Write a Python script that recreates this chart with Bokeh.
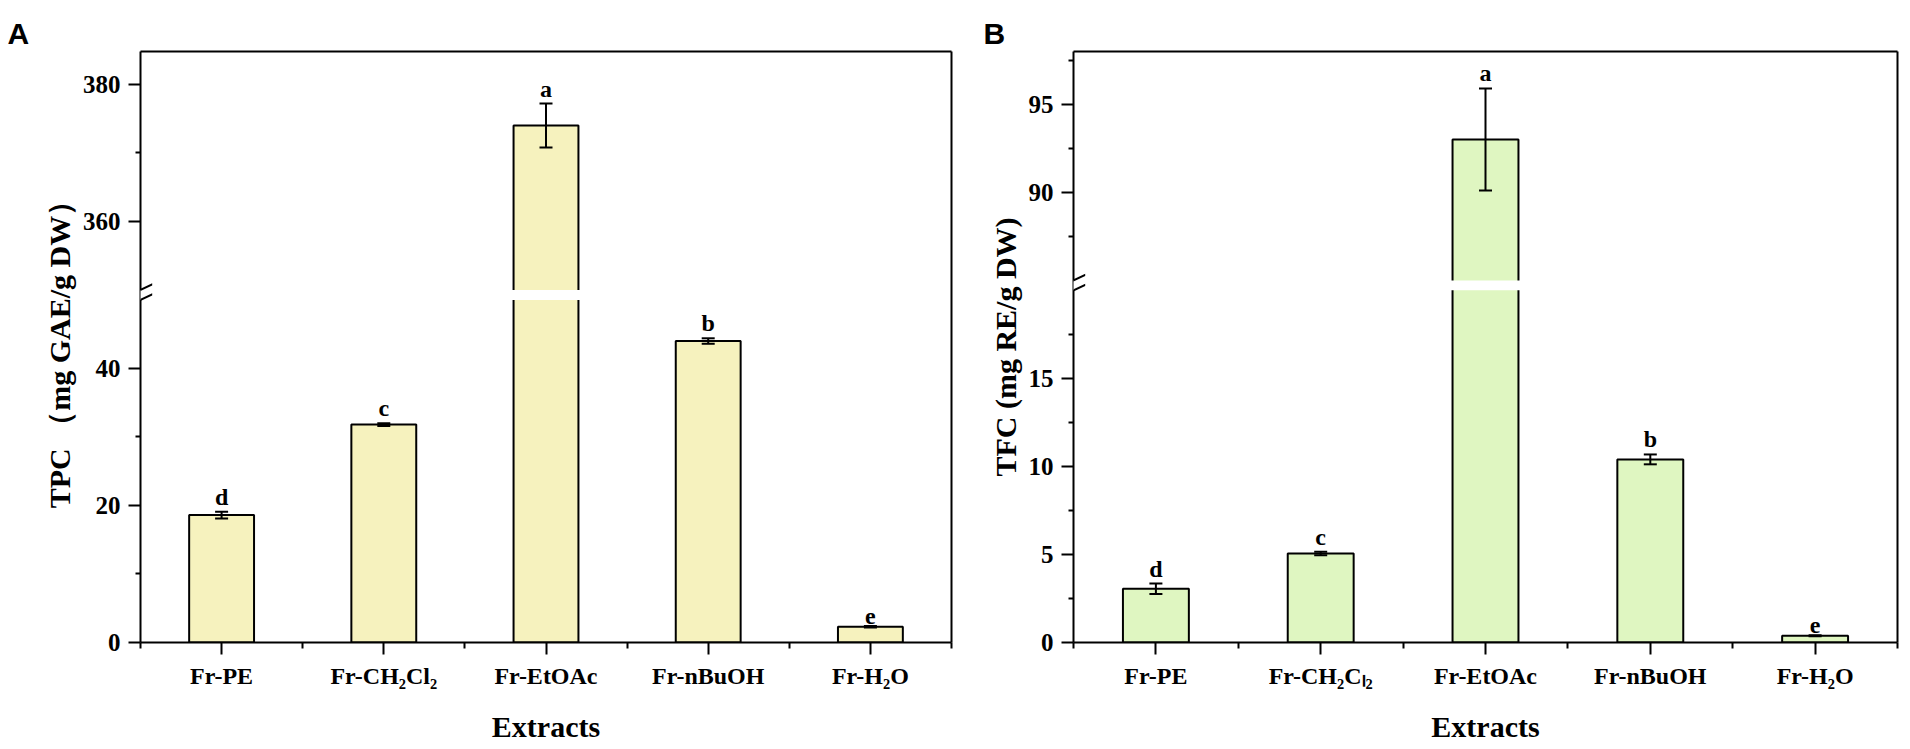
from bokeh.plotting import figure
from bokeh.models import (Range1d, FixedTicker, LinearAxis, Whisker, TeeHead,
                          ColumnDataSource, PolyAnnotation)
from bokeh.layouts import row
from bokeh.embed import file_html
from bokeh.resources import INLINE
from bokeh.core.properties import value

# ---------------- data ----------------
extracts_tpc = ["Fr-PE", "Fr-CH₂Cl₂", "Fr-EtOAc", "Fr-nBuOH", "Fr-H₂O"]
extracts_tfc = ["Fr-PE", "Fr-CH₂Cₗ₂", "Fr-EtOAc", "Fr-nBuOH", "Fr-H₂O"]
tpc_mean = [18.6, 31.8, 374.0, 44.0, 2.3]
tpc_sd = [0.5, 0.2, 3.2, 0.4, 0.1]
tpc_letters = ["d", "c", "a", "b", "e"]
tfc_mean = [3.05, 5.05, 93.0, 10.4, 0.38]
tfc_sd = [0.3, 0.1, 2.9, 0.28, 0.03]
tfc_letters = ["d", "c", "a", "b", "e"]
tpc_major_ticks = [0, 20, 40, 360, 380]
tpc_minor_ticks = [10, 30, 370]
tfc_major_ticks = [0, 5, 10, 15, 90, 95]
tfc_minor_ticks = [2.5, 7.5, 12.5, 17.5, 87.5, 92.5, 97.5]
tpc_break = ((0, 50), (350, 384.8))
tfc_break = ((0, 20), (85, 98))

SERIF = "Liberation Serif"
SANS = "Liberation Sans"
H = 749
GAP_PX = 10


def make_panel(cats, means, sds, letters, major, minor, brk_def, ylabel,
               fill, tag, width, ml, mr, mt, mb, tag_dx):
    lower, upper = brk_def
    frame_w = width - ml - mr
    frame_h = H - mt - mb
    ppu = (frame_h - GAP_PX) / ((lower[1] - lower[0]) + (upper[1] - upper[0]))
    gap_u = GAP_PX / ppu

    def brk(v):
        if v <= lower[1]:
            return round(v - lower[0], 6)
        return round((lower[1] - lower[0]) + gap_u + (v - upper[0]), 6)

    ymax = brk(upper[1])
    n = len(cats)
    ppx = frame_w / n
    xs = [i + 0.5 for i in range(n)]

    p = figure(width=width, height=H, x_range=Range1d(0, n), y_range=Range1d(0, ymax),
               min_border_left=ml, min_border_right=mr, min_border_top=mt,
               min_border_bottom=mb, toolbar_location=None, tools="",
               output_backend="svg", title=tag)
    p.outline_line_color = None
    p.xgrid.visible = False
    p.ygrid.visible = False
    p.background_fill_color = "white"
    p.border_fill_color = "white"
    p.title.align = "left"
    p.title.offset = tag_dx
    p.title.text_font = SANS
    p.title.text_font_style = "bold"
    p.title.text_font_size = "30px"
    p.title.text_color = "black"
    p.title.standoff = 4

    src = ColumnDataSource(dict(
        x=xs,
        top=[brk(m) for m in means],
        hi=[brk(m + s) for m, s in zip(means, sds)],
        lo=[brk(m - s) for m, s in zip(means, sds)],
        lab_y=[brk(m + s) + 2 / ppu for m, s in zip(means, sds)],
        lab=letters,
    ))
    p.vbar(x="x", top="top", bottom=0, width=0.4, source=src,
           fill_color=fill, line_color="black", line_width=2)

    # white gap through broken bars
    broken = [i for i, m in enumerate(means) if m > lower[1]]
    if broken:
        hw = 0.2 + 3 / ppx
        p.quad(left=[xs[i] - hw for i in broken], right=[xs[i] + hw for i in broken],
               bottom=[brk(lower[1])] * len(broken), top=[brk(upper[0])] * len(broken),
               fill_color="white", line_color=None)

    wh = Whisker(source=src, base="x", upper="hi", lower="lo", dimension="height",
                 line_color="black", line_width=2,
                 upper_head=TeeHead(size=13, line_width=2, line_color="black"),
                 lower_head=TeeHead(size=13, line_width=2, line_color="black"))
    wh.level = "overlay"
    p.add_layout(wh)

    p.text(x="x", y="lab_y", text="lab", source=src, text_align="center",
           text_baseline="bottom", text_font=value(SERIF),
           text_font_style="bold", text_font_size="24px", text_color="black")

    # axes
    xa = p.xaxis[0]
    xa.ticker = FixedTicker(ticks=xs, minor_ticks=list(range(n + 1)))
    xa.major_label_overrides = {x: c for x, c in zip(xs, cats)}
    xa.axis_label = "Extracts"
    ya = p.yaxis[0]
    ya.ticker = FixedTicker(ticks=[brk(t) for t in major],
                            minor_ticks=[brk(t) for t in minor])
    ya.major_label_overrides = {brk(t): f"{t:g}" for t in major}
    ya.axis_label = ylabel

    for ax, lsize in ((xa, "24px"), (ya, "25px")):
        ax.axis_line_width = 2
        ax.axis_line_color = "black"
        ax.major_tick_line_width = 2
        ax.minor_tick_line_width = 2
        ax.major_tick_line_color = "black"
        ax.minor_tick_line_color = "black"
        ax.major_tick_in = 0
        ax.minor_tick_in = 0
        ax.major_tick_out = 12
        ax.major_label_text_font = SERIF
        ax.major_label_text_font_style = "bold"
        ax.major_label_text_font_size = lsize
        ax.major_label_text_color = "black"
        ax.axis_label_text_font = SERIF
        ax.axis_label_text_font_style = "bold"
        ax.axis_label_text_font_size = "30px"
        ax.axis_label_text_color = "black"
    xa.minor_tick_out = 6
    ya.minor_tick_out = 5
    xa.major_label_standoff = 8
    xa.axis_label_standoff = 18
    ya.major_label_standoff = 8
    ya.axis_label_standoff = 4

    for side in ("above", "right"):
        b = LinearAxis(ticker=FixedTicker(ticks=[]), major_tick_out=0, major_tick_in=0,
                       minor_tick_out=0, minor_tick_in=0, major_label_standoff=0,
                       axis_line_width=2, axis_line_color="black")
        p.add_layout(b, side)

    # axis break marks
    y_lo, y_up = brk(lower[1]), brk(upper[0])
    p.add_layout(PolyAnnotation(xs=[-4 / ppx, 2 / ppx, 2 / ppx, -4 / ppx],
                                ys=[y_lo, y_lo, y_up, y_up],
                                fill_color="white", fill_alpha=1, line_color=None))
    dxu, dyu, tu = 11.7 / ppx, 5.5 / ppu, 1.1 / ppu
    for yc in (y_lo, y_up):
        p.add_layout(PolyAnnotation(xs=[-dxu, dxu, dxu, -dxu],
                                    ys=[yc - dyu - tu, yc + dyu - tu, yc + dyu + tu, yc - dyu + tu],
                                    fill_color="black", fill_alpha=1, line_color=None))
    return p


pA = make_panel(extracts_tpc, tpc_mean, tpc_sd, tpc_letters, tpc_major_ticks,
                tpc_minor_ticks, tpc_break, "TPC （mg GAE/g DW）", "#F6F2BE", "A",
                width=960, ml=140, mr=9, mt=50, mb=107, tag_dx=-133)
pB = make_panel(extracts_tfc, tfc_mean, tfc_sd, tfc_letters, tfc_major_ticks,
                tfc_minor_ticks, tfc_break, "TFC (mg RE/g DW)", "#DFF6C1", "B",
                width=950, ml=113, mr=13, mt=51, mb=106, tag_dx=-90)

layout = row(pA, pB)
with open("out.html", "w") as f:
    f.write(file_html(layout, INLINE))
